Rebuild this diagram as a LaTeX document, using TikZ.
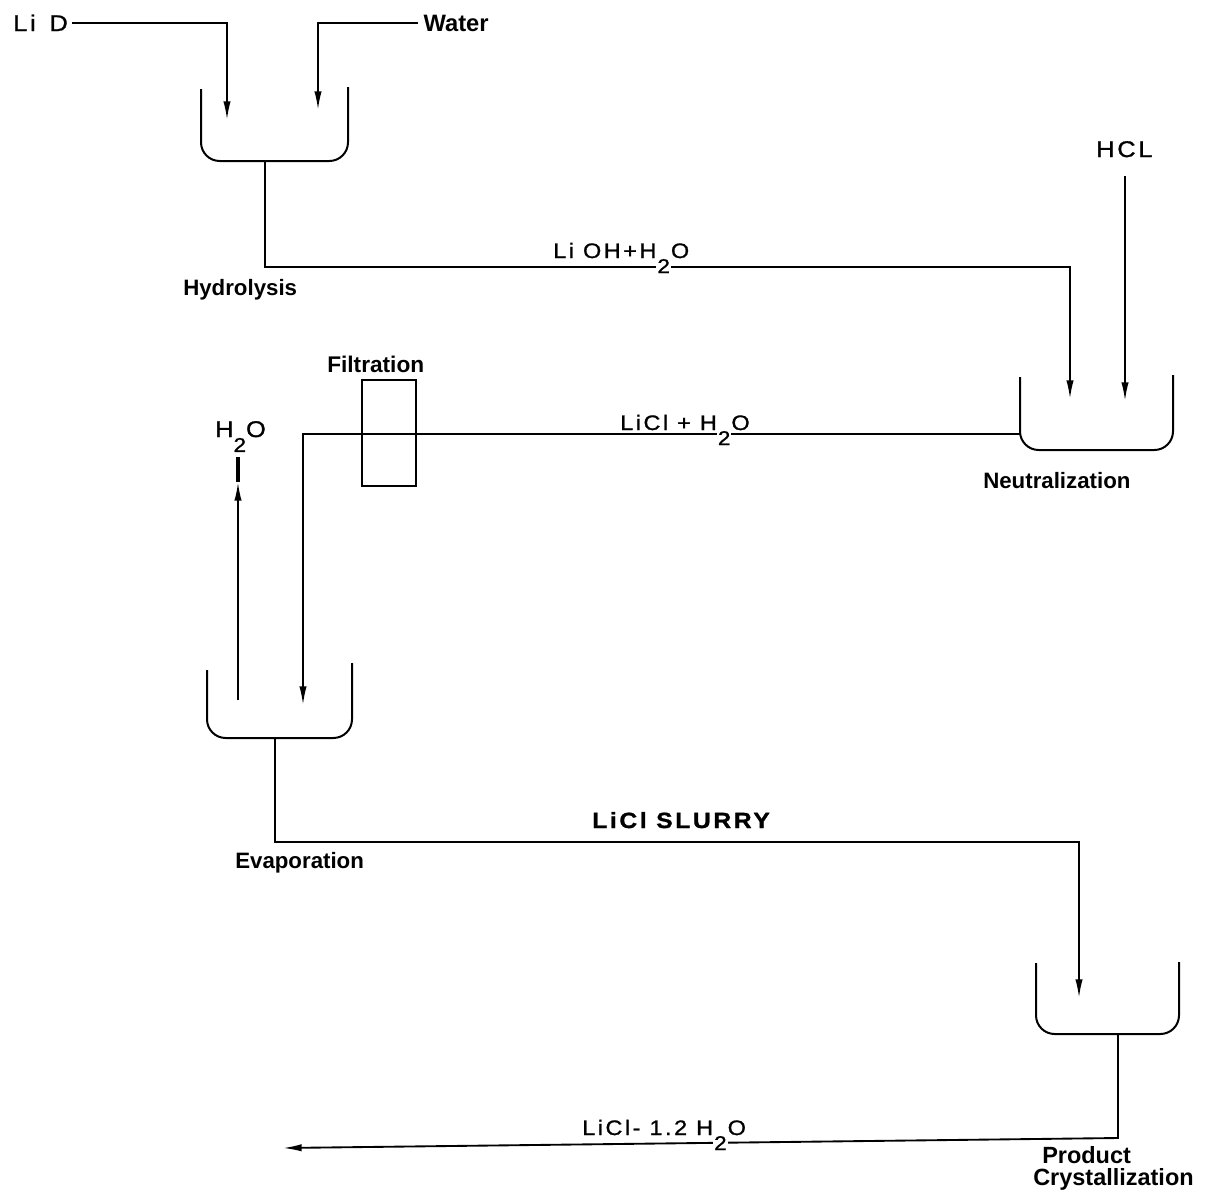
\documentclass[tikz,border=0pt]{standalone}
\usepackage{fontspec}
\setmainfont{Liberation Sans}
\newfontfamily\labfont[FakeStretch=1.12,LetterSpace=12,FakeBold=1.2]{Liberation Sans}
\usetikzlibrary{arrows.meta}
\newcommand{\subw}[1]{\raisebox{-0.72em}{\setlength{\fboxsep}{0.8pt}\colorbox{white}{\fontsize{15}{15}\selectfont #1}}}
\newcommand{\subn}[1]{\raisebox{-0.66em}{\fontsize{15}{15}\selectfont #1}}
\begin{document}
\begin{tikzpicture}[x=0.75pt,y=-0.75pt,
  flow/.style={line width=1.4pt},
  feed/.style={line width=1.4pt,-{Latex[length=14pt,width=5.5pt]}},
  vesselline/.style={line width=1.5pt, rounded corners=14pt},
  station/.style={font=\fontsize{16.7}{18}\selectfont\bfseries, anchor=base west, inner sep=0pt},
  stream/.style={font=\labfont\fontsize{15.7}{17}\selectfont, anchor=base west, inner sep=0pt},
  feedlab/.style={font=\labfont\fontsize{17}{19}\selectfont, anchor=base west, inner ysep=0pt, inner xsep=3pt},
  filterbox/.style={draw, line width=0.9pt, minimum width=40.5pt, minimum height=79.5pt, inner sep=0pt}]
\useasboundingbox (0,0) rectangle (1213,1203);

% ---------- coordinates ----------
\coordinate (hydInA) at (227,120);
\coordinate (hydInB) at (318,110);
\coordinate (hydOut) at (265,161);
\coordinate (c1) at (265,267);
\coordinate (c2) at (1070,267);
\coordinate (neuInA) at (1070,399);
\coordinate (hclTop) at (1125,176);
\coordinate (neuInB) at (1125,401);
\coordinate (neuOut) at (1020,434);
\coordinate (c3) at (303,434);
\coordinate (evapInA) at (303,705);
\coordinate (ventBot) at (238,700);
\coordinate (ventTip) at (238,482);
\coordinate (ventTop) at (238,457);
\coordinate (evapOut) at (275,738);
\coordinate (c4) at (275,842);
\coordinate (c5) at (1079,842);
\coordinate (cryIn) at (1079,998);
\coordinate (cryOut) at (1118,1034);
\coordinate (c6) at (1118,1138);
\coordinate (prodEnd) at (283,1148);

% ---------- vessels ----------
\draw[vesselline] (201,89) -- (201,161) -- (348,161) -- (348,87);
\draw[vesselline] (1020,377) -- (1020,450) -- (1173,450) -- (1173,375);
\draw[vesselline] (207,670) -- (207,738) -- (352,738) -- (352,663);
\draw[vesselline] (1036,963) -- (1036,1034) -- (1179,1034) -- (1179,962);

% ---------- feed labels ----------
\node[feedlab] (lid) at (9,31) {Li\kern3pt{} D};
\node[font=\fontsize{17.8}{19}\selectfont\bfseries, anchor=base west, inner ysep=0pt, inner xsep=4pt] (water) at (418,31) {Water};
\node[feedlab] (hcl) at (1092,157) {HCL};

% ---------- connectors ----------
\draw[feed] (lid.east) -| (hydInA);
\draw[feed] (water.west) -| (hydInB);
\draw[feed] (hydOut) -- (c1) -- (c2) -- (neuInA);
\draw[feed] (hclTop) -- (neuInB);
\draw[feed] (neuOut) -- (c3) -- (evapInA);
\draw[feed] (ventBot) -- (ventTip);
\draw[line width=2.6pt] (ventTip) -- (ventTop);
\draw[feed] (evapOut) -- (c4) -- (c5) -- (cryIn);
\draw[feed] (cryOut) -- (c6) -- (prodEnd);

% ---------- filtration ----------
\node[filterbox] (filt) at (389,433) {};
\node[station, font=\fontsize{17}{18}\selectfont\bfseries] (filtlab) at (327,372) {Filtration};

% ---------- stream labels ----------
\node[stream] (lioh) at (553,258) {Li OH+H\subw{2}O};
\node[stream] (licl) at (620,430) {LiCl + H\subw{2}O};
\node[stream, font=\labfont\fontsize{16.5}{18}\selectfont\bfseries] (slurry) at (592,828) {LiCl SLURRY};
\node[stream] (prod) at (582,1135) {LiCl- 1.2 H\subw{2}O};
\node[feedlab, inner xsep=0pt] (vent) at (215,437) {H\subn{2}O};

% ---------- station labels ----------
\node[station] (hydlab) at (183,295) {Hydrolysis};
\node[station] (neulab) at (983,488) {Neutralization};
\node[station] (evaplab) at (235,868) {Evaporation};
\node[station, font=\fontsize{17.6}{19}\selectfont\bfseries] (prodlab) at (1042,1163) {Product};
\node[station, font=\fontsize{17.6}{19}\selectfont\bfseries] (crylab) at (1033,1185) {Crystallization};
\end{tikzpicture}
\end{document}
